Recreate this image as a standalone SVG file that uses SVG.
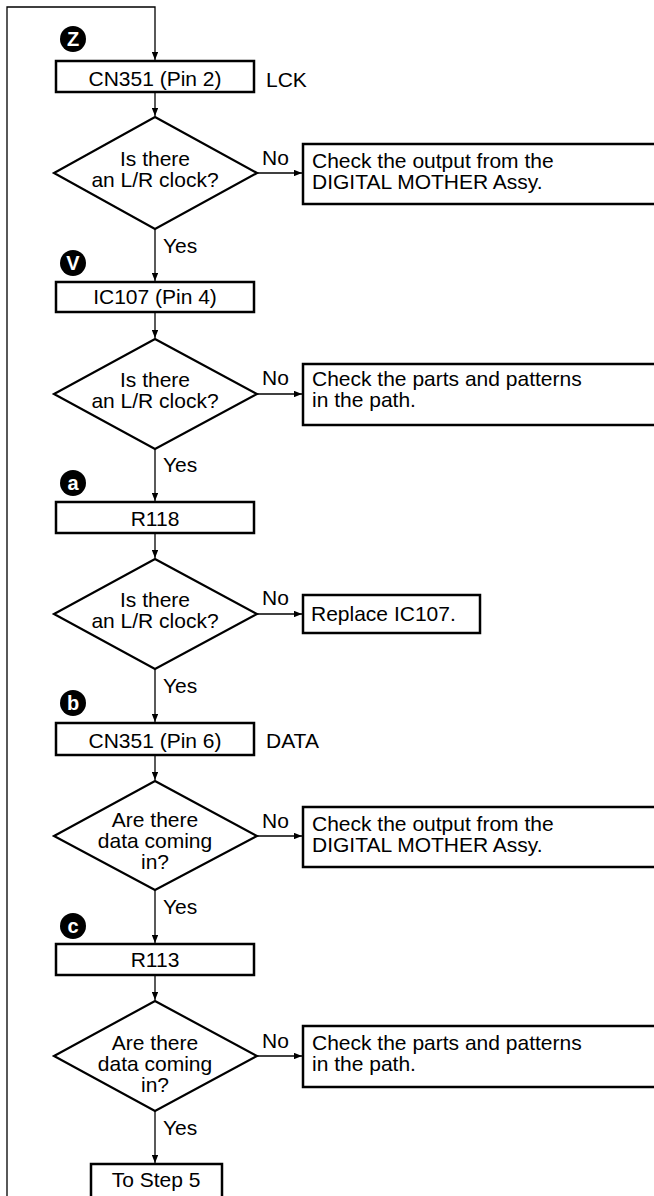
<svg xmlns="http://www.w3.org/2000/svg" width="654" height="1196" viewBox="0 0 654 1196">
<style>
.box{fill:#fff;stroke:#000;stroke-width:2.5}
.dia{fill:#fff;stroke:#000;stroke-width:2.2}
.con{fill:none;stroke:#000;stroke-width:1.3}
.t{font-family:"Liberation Sans",Arial,Helvetica,sans-serif;font-size:21px;fill:#000}
.c{text-anchor:middle}
.bd{fill:#000}
.bt{font-family:"Liberation Sans",Arial,sans-serif;font-size:20px;font-weight:bold;fill:#fff;text-anchor:middle}
</style>
<defs>
<marker id="ah" viewBox="0 0 10 8" refX="10" refY="4" markerWidth="8" markerHeight="6.4" markerUnits="userSpaceOnUse" orient="auto">
<path d="M0,0 L10,4 L0,8 Z" fill="#000"/>
</marker>
</defs>
<rect width="654" height="1196" fill="#fff"/>
<g id="connectors">
<polyline class="con" points="7,1196 7,7 155,7 155,60" marker-end="url(#ah)"/>
<line class="con" x1="155" y1="92" x2="155" y2="116" marker-end="url(#ah)"/>
<line class="con" x1="257" y1="173" x2="302" y2="173" marker-end="url(#ah)"/>
<line class="con" x1="155" y1="229" x2="155" y2="281" marker-end="url(#ah)"/>
<line class="con" x1="155" y1="312" x2="155" y2="338" marker-end="url(#ah)"/>
<line class="con" x1="257" y1="394" x2="302" y2="394" marker-end="url(#ah)"/>
<line class="con" x1="155" y1="449" x2="155" y2="501" marker-end="url(#ah)"/>
<line class="con" x1="155" y1="533" x2="155" y2="558" marker-end="url(#ah)"/>
<line class="con" x1="257" y1="614" x2="302" y2="614" marker-end="url(#ah)"/>
<line class="con" x1="155" y1="669" x2="155" y2="722" marker-end="url(#ah)"/>
<line class="con" x1="155" y1="755" x2="155" y2="780" marker-end="url(#ah)"/>
<line class="con" x1="257" y1="836" x2="302" y2="836" marker-end="url(#ah)"/>
<line class="con" x1="155" y1="890" x2="155" y2="943" marker-end="url(#ah)"/>
<line class="con" x1="155" y1="975" x2="155" y2="1000" marker-end="url(#ah)"/>
<line class="con" x1="257" y1="1056" x2="302" y2="1056" marker-end="url(#ah)"/>
<line class="con" x1="155" y1="1111" x2="155" y2="1163" marker-end="url(#ah)"/>
</g>
<g id="labels">
<text class="t" x="262" y="165">No</text>
<text class="t" x="163" y="253">Yes</text>
<text class="t" x="262" y="385">No</text>
<text class="t" x="163" y="472">Yes</text>
<text class="t" x="262" y="605">No</text>
<text class="t" x="163" y="693">Yes</text>
<text class="t" x="262" y="828">No</text>
<text class="t" x="163" y="914">Yes</text>
<text class="t" x="262" y="1048">No</text>
<text class="t" x="163" y="1135">Yes</text>
</g>
<g id="badge-z"><circle class="bd" cx="73" cy="39" r="13"/><text class="bt" x="73" y="46">Z</text></g>
<g id="badge-v"><circle class="bd" cx="73" cy="263" r="13"/><text class="bt" x="73" y="270">V</text></g>
<g id="badge-a"><circle class="bd" cx="73" cy="483" r="13"/><text class="bt" x="73" y="490">a</text></g>
<g id="badge-b"><circle class="bd" cx="73" cy="703" r="13"/><text class="bt" x="73" y="710">b</text></g>
<g id="badge-c"><circle class="bd" cx="73" cy="926" r="13"/><text class="bt" x="73" y="933">c</text></g>
<g id="n-cn351-2">
<rect class="box" x="56" y="61" width="198" height="31"/>
<text class="t c" x="155" y="86">CN351 (Pin 2)</text>
<text class="t" x="266" y="87">LCK</text>
</g>
<g id="d1">
<polygon class="dia" points="155,117 257,173 155,229 54,173"/>
<text class="t c"><tspan x="155" y="166">Is there</tspan><tspan x="155" y="187">an L/R clock?</tspan></text>
</g>
<g id="n-check1">
<rect class="box" x="303" y="144" width="360" height="60"/>
<text class="t"><tspan x="312" y="168">Check the output from the</tspan><tspan x="312" y="189">DIGITAL MOTHER Assy.</tspan></text>
</g>
<g id="n-ic107">
<rect class="box" x="56" y="282" width="198" height="30"/>
<text class="t c" x="155" y="304">IC107 (Pin 4)</text>
</g>
<g id="d2">
<polygon class="dia" points="155,339 257,394 155,449 54,394"/>
<text class="t c"><tspan x="155" y="387">Is there</tspan><tspan x="155" y="408">an L/R clock?</tspan></text>
</g>
<g id="n-check2">
<rect class="box" x="303" y="364" width="360" height="61"/>
<text class="t"><tspan x="312" y="386">Check the parts and patterns</tspan><tspan x="312" y="407">in the path.</tspan></text>
</g>
<g id="n-r118">
<rect class="box" x="56" y="502" width="198" height="31"/>
<text class="t c" x="155" y="526">R118</text>
</g>
<g id="d3">
<polygon class="dia" points="155,559 257,614 155,669 54,614"/>
<text class="t c"><tspan x="155" y="607">Is there</tspan><tspan x="155" y="628">an L/R clock?</tspan></text>
</g>
<g id="n-replace">
<rect class="box" x="303" y="595" width="177" height="38"/>
<text class="t" x="311" y="621">Replace IC107.</text>
</g>
<g id="n-cn351-6">
<rect class="box" x="56" y="723" width="198" height="32"/>
<text class="t c" x="155" y="748">CN351 (Pin 6)</text>
<text class="t" x="266" y="748">DATA</text>
</g>
<g id="d4">
<polygon class="dia" points="155,781 257,836 155,890 54,836"/>
<text class="t c"><tspan x="155" y="827">Are there</tspan><tspan x="155" y="848">data coming</tspan><tspan x="155" y="869">in?</tspan></text>
</g>
<g id="n-check3">
<rect class="box" x="303" y="807" width="360" height="60"/>
<text class="t"><tspan x="312" y="831">Check the output from the</tspan><tspan x="312" y="852">DIGITAL MOTHER Assy.</tspan></text>
</g>
<g id="n-r113">
<rect class="box" x="56" y="944" width="198" height="31"/>
<text class="t c" x="155" y="967">R113</text>
</g>
<g id="d5">
<polygon class="dia" points="155,1001 257,1056 155,1111 54,1056"/>
<text class="t c"><tspan x="155" y="1050">Are there</tspan><tspan x="155" y="1071">data coming</tspan><tspan x="155" y="1092">in?</tspan></text>
</g>
<g id="n-check4">
<rect class="box" x="303" y="1026" width="360" height="61"/>
<text class="t"><tspan x="312" y="1050">Check the parts and patterns</tspan><tspan x="312" y="1071">in the path.</tspan></text>
</g>
<g id="n-step5">
<rect class="box" x="91" y="1164" width="131" height="40"/>
<text class="t c" x="156" y="1187">To Step 5</text>
</g>
</svg>
